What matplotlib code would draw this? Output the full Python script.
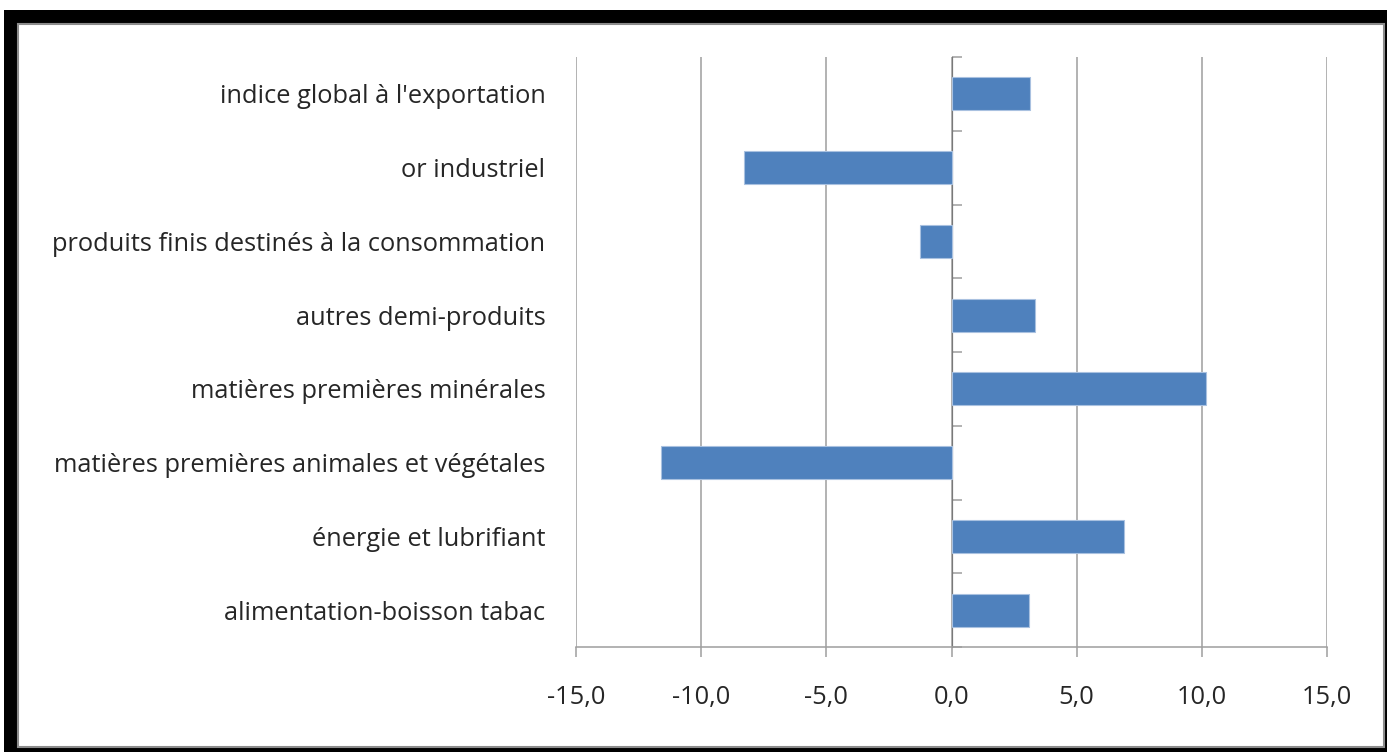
import numpy as np
import matplotlib
matplotlib.use("Agg")
import matplotlib.pyplot as plt
from matplotlib.patches import Rectangle
from matplotlib.ticker import FixedLocator, FuncFormatter

# ---- data ----
categories = [
    "alimentation-boisson tabac",
    "énergie et lubrifiant",
    "matières premières animales et végétales",
    "matières premières minérales",
    "autres demi-produits",
    "produits finis destinés à la consommation",
    "or industriel",
    "indice global à l'exportation",
]
values = [3.1, 6.9, -11.6, 10.15, 3.35, -1.25, -8.3, 3.15]
x_ticks = [-15, -10, -5, 0, 5, 10, 15]

W, H = 1387, 752
plt.rcParams['font.family'] = ['Open Sans', 'DejaVu Sans']
fig = plt.figure(figsize=(W / 100, H / 100), dpi=100)
fig.patch.set_facecolor('white')

def fx(px):
    return px / W

def fy(py):
    return 1 - py / H

# frame: black border with gray inner edge
fig.patches.append(Rectangle((fx(4), fy(752)), fx(1387) - fx(4), fy(10) - fy(752),
                             transform=fig.transFigure, facecolor='black',
                             edgecolor='none', zorder=-5))
fig.patches.append(Rectangle((fx(18), fy(747)), fx(1384) - fx(18), fy(24) - fy(747),
                             transform=fig.transFigure, facecolor='white',
                             edgecolor='#8c8c8c', linewidth=1.5, zorder=-4))

left, right, top, bottom = 576, 1327, 57, 647
ax = fig.add_axes([fx(left), fy(bottom), fx(right) - fx(left), fy(top) - fy(bottom)])
ax.set_facecolor('none')

y = np.arange(len(categories))
ax.barh(y, values, height=0.45, color='#4f81bd', edgecolor='#a9c1e0',
        linewidth=0.8, zorder=3)

ax.set_xlim(-15, 15)
ax.set_ylim(-0.5, len(categories) - 0.5)

grid_color = '#9e9e9e'
fs = 18.3
ax.xaxis.set_major_locator(FixedLocator(x_ticks))
ax.xaxis.set_major_formatter(FuncFormatter(lambda v, p: f"{v:.1f}".replace('.', ',')))
ax.grid(axis='x', color=grid_color, linewidth=1.1, zorder=0)
ax.tick_params(axis='x', length=7.5, width=1.1, color=grid_color, pad=20,
               labelsize=fs, labelcolor='#262626')

ax.set_yticks(y)
ax.set_yticklabels(categories)
ax.tick_params(axis='y', length=0, pad=22, labelsize=fs, labelcolor='#262626')

for s in ['top', 'right', 'left']:
    ax.spines[s].set_visible(False)
ax.spines['bottom'].set_color(grid_color)
ax.spines['bottom'].set_linewidth(1.1)

# vertical axis at zero with category boundary ticks
sec = ax.secondary_yaxis(0.5)
sec.set_yticks(np.arange(len(categories) + 1) - 0.5)
sec.set_yticklabels([])
sec.tick_params(axis='y', length=7.5, width=1.1, color=grid_color, direction='out')
sec.spines['left'].set_color(grid_color)
sec.spines['left'].set_linewidth(1.1)

fig.savefig('out.png', dpi=100, facecolor='white')
